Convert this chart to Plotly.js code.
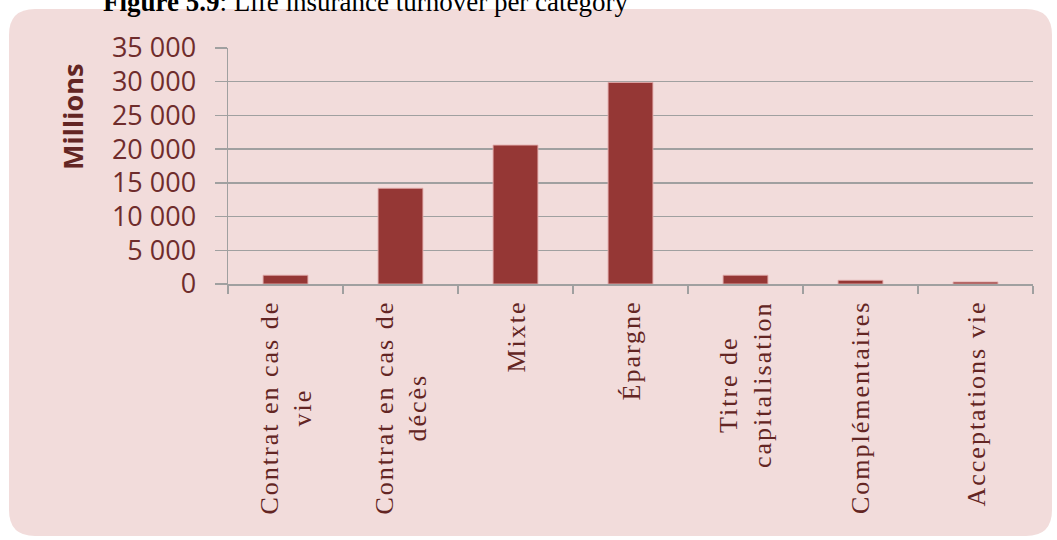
<!DOCTYPE html>
<html><head><meta charset="utf-8">
<script src="https://cdn.plot.ly/plotly-3.0.1.min.js"></script>
<style>
html,body{margin:0;padding:0;background:#fff;}
text.annotation-text[style*="font-size: 26px"]{letter-spacing:2px;}
</style></head>
<body><div id="chart" style="width:1057px;height:540px;"></div>
<script>
const categories = ["Contrat en cas de vie", "Contrat en cas de décès", "Mixte", "Épargne", "Titre de capitalisation", "Complémentaires", "Acceptations vie"];
const xTickLabels = ["Contrat en cas de<br>vie", "Contrat en cas de<br>décès", "Mixte", "Épargne", "Titre de<br>capitalisation", "Complémentaires", "Acceptations vie"];
const turnover = [1300, 14200, 20600, 29900, 1300, 550, 300];
const yTickVals = [0, 5000, 10000, 15000, 20000, 25000, 30000, 35000];
const yTickLabels = ["0", "5 000", "10 000", "15 000", "20 000", "25 000", "30 000", "35 000"];
const yTitle = "Millions";
const figTitle = "<b>Figure 5.9</b>: Life insurance turnover per category";

const W = 1057, H = 540, ml = 228, mr = 24, mt = 48, mb = 256;
const pw = W - ml - mr, ph = H - mt - mb;
const px = x => (x - ml) / pw;
const py = y => 1 - (y - mt) / ph;

// rounded background panel
const L = 9, T = 9, R = 1052, B = 536, r = 26;
const P = (x, y) => px(x).toFixed(5) + ',' + py(y).toFixed(5);
const bgPath = 'M' + P(L + r, T) + ' L' + P(R - r, T) + ' Q' + P(R, T) + ' ' + P(R, T + r) +
  ' L' + P(R, B - r) + ' Q' + P(R, B) + ' ' + P(R - r, B) +
  ' L' + P(L + r, B) + ' Q' + P(L, B) + ' ' + P(L, B - r) +
  ' L' + P(L, T + r) + ' Q' + P(L, T) + ' ' + P(L + r, T) + ' Z';

const labelColor = '#632523';
const axisGray = '#A0A0A0';

const annotations = categories.map((c, i) => ({
  x: c, xref: 'x', y: 0, yref: 'paper', yanchor: 'top', xanchor: 'center',
  yshift: -15, textangle: -90, align: 'center', showarrow: false,
  text: xTickLabels[i],
  font: {family: 'Liberation Serif, Times New Roman, serif', size: 26, color: labelColor}
}));
annotations.push({
  x: px(72), xref: 'paper', y: py(117), yref: 'paper', xanchor: 'center', yanchor: 'middle',
  textangle: -90, showarrow: false, text: '<b>' + yTitle + '</b>',
  font: {family: 'Open Sans, sans-serif', size: 27, color: labelColor}
});
annotations.push({
  x: px(101), xref: 'paper', y: py(19), yref: 'paper', xanchor: 'left', yanchor: 'bottom',
  showarrow: false, text: figTitle,
  font: {family: 'Liberation Serif, Times New Roman, serif', size: 27, color: '#000'}
});

const data = [{
  type: 'bar', x: categories, y: turnover,
  marker: {color: '#953735', line: {color: 'rgba(225,170,170,0.9)', width: 1}},
  hoverinfo: 'none'
}];

const layout = {
  width: W, height: H,
  margin: {l: ml, r: mr, t: mt, b: mb, pad: 0},
  paper_bgcolor: '#ffffff', plot_bgcolor: '#ffffff',
  showlegend: false, bargap: 0.61,
  xaxis: {
    type: 'category', showticklabels: false, ticks: 'outside', tickson: 'boundaries',
    ticklen: 8, tickwidth: 1.5, tickcolor: axisGray, showline: true, linecolor: axisGray,
    linewidth: 1.5, showgrid: false, zeroline: false, fixedrange: true
  },
  yaxis: {
    range: [0, 35000], tickvals: yTickVals, ticktext: yTickLabels,
    ticks: 'outside', ticklen: 12, tickwidth: 1.5, tickcolor: axisGray,
    showline: true, linecolor: axisGray, linewidth: 1.5,
    showgrid: true, gridcolor: axisGray, gridwidth: 1.5, zeroline: false,
    tickfont: {family: 'Open Sans, sans-serif', size: 27, color: '#6F2C2C'},
    ticklabelstandoff: 13, fixedrange: true
  },
  shapes: [{type: 'path', xref: 'paper', yref: 'paper', path: bgPath,
    fillcolor: '#F2DCDB', line: {width: 0}, layer: 'below'}],
  annotations: annotations
};

Plotly.newPlot('chart', data, layout, {displayModeBar: false, staticPlot: true});
</script>
</body></html>
